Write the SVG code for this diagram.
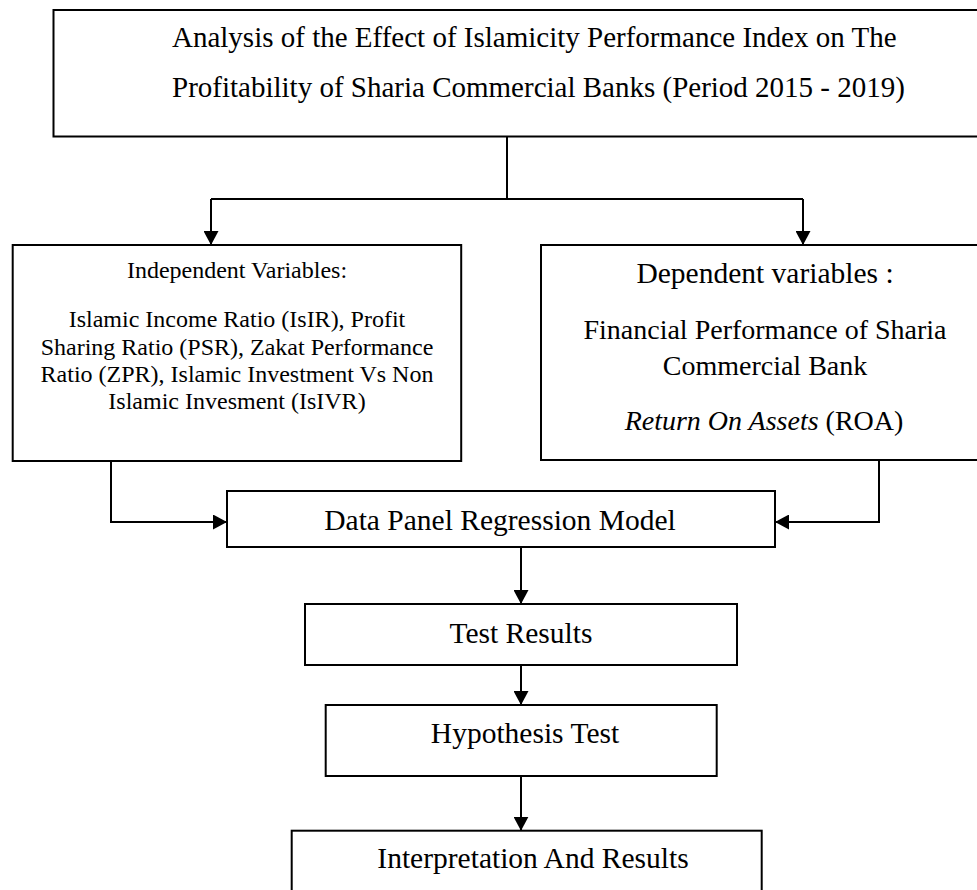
<svg xmlns="http://www.w3.org/2000/svg" width="977" height="890" viewBox="0 0 977 890">
<style>
.box{fill:#fff;stroke:#000;stroke-width:2}
.ln{fill:none;stroke:#000;stroke-width:2}
text{font-family:"Liberation Serif","Times New Roman",serif;fill:#000}
.t28{font-size:29px}
.t24{font-size:24px;text-anchor:middle}
.c28{font-size:28px;text-anchor:middle}
.c29{font-size:29.5px;text-anchor:middle}
</style>
<defs>
<marker id="arr" viewBox="0 0 14 15" refX="14" refY="7.5" markerWidth="14" markerHeight="15" orient="auto" markerUnits="userSpaceOnUse">
<path d="M0,0 L14,7.5 L0,15 Z" fill="#000"/>
</marker>
</defs>
<rect width="977" height="890" fill="#fff"/>
<g id="title">
<rect class="box" x="53.5" y="10" width="940" height="126.5"/>
<text class="t28" x="172" y="47">Analysis of the Effect of Islamicity Performance Index on The</text>
<text class="t28" x="172" y="97">Profitability of Sharia Commercial Banks (Period 2015 - 2019)</text>
</g>
<g id="independent">
<rect class="box" x="12.7" y="245" width="448.5" height="216"/>
<text class="t24" x="237" y="278">Independent Variables:</text>
<text class="t24" x="237" y="327">Islamic Income Ratio (IsIR), Profit</text>
<text class="t24" x="237" y="355">Sharing Ratio (PSR), Zakat Performance</text>
<text class="t24" x="237" y="382">Ratio (ZPR), Islamic Investment Vs Non</text>
<text class="t24" x="237" y="409">Islamic Invesment (IsIVR)</text>
</g>
<g id="dependent">
<rect class="box" x="541" y="245" width="450" height="215"/>
<text class="c29" x="765" y="283">Dependent variables :</text>
<text class="c28" x="765" y="339">Financial Performance of Sharia</text>
<text class="c28" x="765" y="375">Commercial Bank</text>
<text class="c28" x="764" y="430"><tspan font-style="italic">Return On Assets</tspan> (ROA)</text>
</g>
<g id="model">
<rect class="box" x="227" y="491" width="548" height="56"/>
<text class="c29" x="500" y="530">Data Panel Regression Model</text>
</g>
<g id="test">
<rect class="box" x="305" y="604" width="432" height="61"/>
<text class="c29" x="521" y="643">Test Results</text>
</g>
<g id="hypothesis">
<rect class="box" x="325.7" y="705" width="391" height="71"/>
<text class="c29" x="525" y="743">Hypothesis Test</text>
</g>
<g id="interpretation">
<rect class="box" x="291.7" y="830.7" width="470" height="80"/>
<text class="c29" x="533" y="868">Interpretation And Results</text>
</g>
<g id="connectors">
<path class="ln" d="M507,136.5 V199"/>
<path class="ln" d="M211,199 H803"/>
<path class="ln" d="M211,199 V245" marker-end="url(#arr)"/>
<path class="ln" d="M803,199 V245" marker-end="url(#arr)"/>
<path class="ln" d="M111,461 V522 H227" marker-end="url(#arr)"/>
<path class="ln" d="M879,460 V522 H775" marker-end="url(#arr)"/>
<path class="ln" d="M521,547 V604" marker-end="url(#arr)"/>
<path class="ln" d="M521,665 V705" marker-end="url(#arr)"/>
<path class="ln" d="M521,776 V830.7" marker-end="url(#arr)"/>
</g>
</svg>
